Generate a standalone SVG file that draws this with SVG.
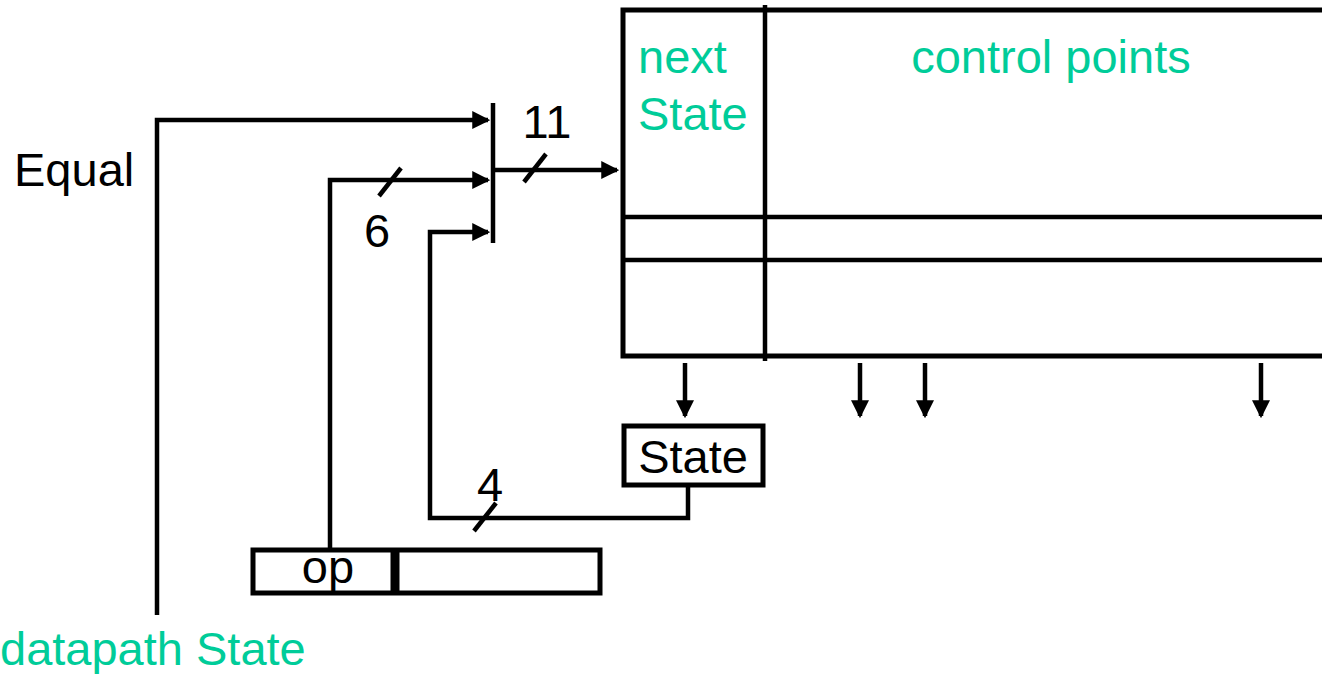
<svg xmlns="http://www.w3.org/2000/svg" width="1322" height="674" viewBox="0 0 1322 674">
<style>
.ln{fill:none;stroke:#000;stroke-width:4.5;stroke-linejoin:miter}
.box{fill:#fff;stroke:#000;stroke-width:5}
.t{font-family:"Liberation Sans",Arial,sans-serif;font-size:47px;fill:#000}
.g{fill:#00cc99}
</style>
<defs>
<marker id="ah" markerWidth="4" markerHeight="4" refX="3.5" refY="2" orient="auto" markerUnits="strokeWidth"><path d="M0,0 L4,2 L0,4 Z" fill="#000"/></marker>
</defs>
<rect width="1322" height="674" fill="#fff"/>
<g id="rom">
<rect x="623" y="10" width="710" height="346" class="box"/>
<line x1="623" y1="217" x2="1322" y2="217" class="ln"/>
<line x1="623" y1="260" x2="1322" y2="260" class="ln"/>
<line x1="765" y1="5" x2="765" y2="361" class="ln"/>
<text x="638" y="73" class="t g">next</text>
<text x="638" y="130" class="t g">State</text>
<text x="1051" y="73" class="t g" text-anchor="middle">control points</text>
</g>
<g id="state">
<rect x="624" y="426" width="139" height="59" class="box"/>
<text x="693" y="473" class="t" text-anchor="middle">State</text>
</g>
<g id="op">
<rect x="253" y="550" width="347" height="43" class="box"/>
<line x1="395" y1="548" x2="395" y2="595" stroke="#000" stroke-width="9"/>
<text x="328" y="583" class="t" text-anchor="middle">op</text>
</g>
<g id="labels">
<text x="14" y="186" class="t">Equal</text>
<text x="0" y="665" class="t g">datapath State</text>
<text x="547" y="138" class="t" text-anchor="middle">11</text>
<text x="377" y="247" class="t" text-anchor="middle">6</text>
<text x="490" y="501" class="t" text-anchor="middle">4</text>
</g>
<g id="connectors">
<line x1="493" y1="103" x2="493" y2="243" class="ln"/>
<polyline points="157,615 157,120 488,120" class="ln" marker-end="url(#ah)"/>
<polyline points="330,548 330,180 488,180" class="ln" marker-end="url(#ah)"/>
<polyline points="688,487 688,518 430,518 430,232 488,232" class="ln" marker-end="url(#ah)"/>
<line x1="493" y1="170" x2="617" y2="170" class="ln" marker-end="url(#ah)"/>
<line x1="379" y1="196" x2="401" y2="168" class="ln"/>
<line x1="524" y1="182" x2="546" y2="154" class="ln"/>
<line x1="474" y1="531" x2="496" y2="503" class="ln"/>
<line x1="685" y1="363" x2="685" y2="416" class="ln" marker-end="url(#ah)"/>
<line x1="860" y1="363" x2="860" y2="416" class="ln" marker-end="url(#ah)"/>
<line x1="925" y1="363" x2="925" y2="416" class="ln" marker-end="url(#ah)"/>
<line x1="1261" y1="363" x2="1261" y2="416" class="ln" marker-end="url(#ah)"/>
</g>
</svg>
